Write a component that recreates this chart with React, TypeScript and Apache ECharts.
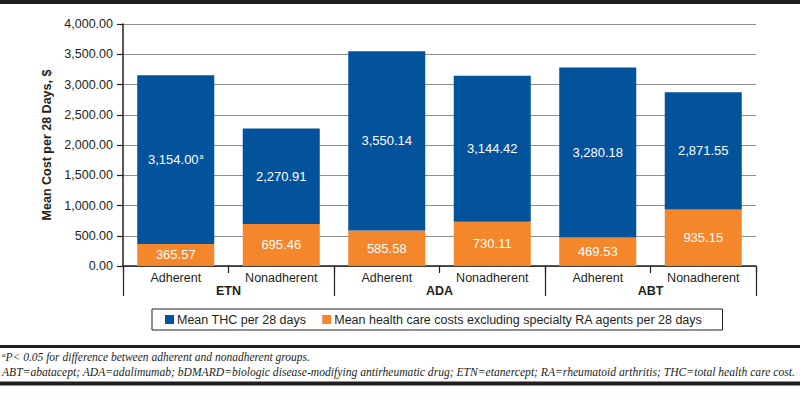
import React, { useEffect, useRef } from 'react';
import * as echarts from 'echarts';

const groups = ['ETN', 'ADA', 'ABT'];
const categories = ['Adherent', 'Nonadherent', 'Adherent', 'Nonadherent', 'Adherent', 'Nonadherent'];
const thcValues = [3154.0, 2270.91, 3550.14, 3144.42, 3280.18, 2871.55];
const otherValues = [365.57, 695.46, 585.58, 730.11, 469.53, 935.15];
const significant = [true, false, false, false, false, false];
const seriesNames = ['Mean THC per 28 days', 'Mean health care costs excluding specialty RA agents per 28 days'];
const yAxisTitle = 'Mean Cost per 28 Days, $';
const footnote1 = 'P< 0.05 for difference between adherent and nonadherent groups.';
const footnote2 =
  'ABT=abatacept; ADA=adalimumab; bDMARD=biologic disease-modifying antirheumatic drug; ETN=etanercept; RA=rheumatoid arthritis; THC=total health care cost.';

const BLUE = '#02529c';
const ORANGE = '#f4862b';
const INK = '#231f20';
const SANS = '"Liberation Sans", Arial, Helvetica, sans-serif';
const SERIF = '"Liberation Serif", "Times New Roman", serif';

const fmt = (v: number) =>
  v.toLocaleString('en-US', { minimumFractionDigits: 2, maximumFractionDigits: 2 });

export default function App() {
  const ref = useRef<HTMLDivElement>(null);
  useEffect(() => {
    if (!ref.current) return;
    const chart = echarts.init(ref.current, undefined, { renderer: 'svg' });
    const option: any = {
      animation: false,
      backgroundColor: '#ffffff',
      grid: { left: 123, right: 44, top: 24, bottom: 137, outerBoundsMode: 'none' },
      legend: {
        data: seriesNames,
        left: 152,
        top: 309,
        orient: 'horizontal',
        borderColor: INK,
        borderWidth: 1,
        borderRadius: 0,
        padding: [4, 20, 4, 13],
        itemWidth: 9,
        itemHeight: 9,
        itemGap: 16,
        icon: 'rect',
        textStyle: { fontFamily: SANS, fontSize: 12.5, color: INK, padding: [0, 0, 0, -2] },
      },
      xAxis: [
        {
          type: 'category',
          data: categories,
          position: 'bottom',
          axisLine: { show: true, lineStyle: { color: INK, width: 1.5 } },
          axisTick: { show: true, length: 7, interval: 0, lineStyle: { color: INK, width: 1.2 } },
          axisLabel: { interval: 0, margin: 5, fontFamily: SANS, fontSize: 12.5, color: INK },
        },
        {
          type: 'category',
          data: groups,
          position: 'bottom',
          axisLine: { show: false },
          axisTick: { show: true, length: 30, interval: 0, lineStyle: { color: INK, width: 1.2 } },
          axisLabel: { interval: 0, margin: 18, fontFamily: SANS, fontSize: 12.5, fontWeight: 'bold', color: INK },
        },
      ],
      yAxis: {
        type: 'value',
        min: 0,
        max: 4000,
        interval: 500,
        name: yAxisTitle,
        nameLocation: 'middle',
        nameGap: 67,
        nameTextStyle: { fontFamily: SANS, fontSize: 12.5, fontWeight: 'bold', color: INK },
        axisLine: { show: true, lineStyle: { color: INK, width: 1.5 } },
        axisTick: { show: true, length: 6, lineStyle: { color: INK, width: 1.2 } },
        axisLabel: { margin: 10, fontFamily: SANS, fontSize: 12.5, color: INK, formatter: (v: number) => fmt(v) },
        splitLine: { show: true, lineStyle: { color: '#8f8f8f', width: 1.2 } },
      },
      series: [
        {
          name: seriesNames[1],
          type: 'bar',
          stack: 'cost',
          barCategoryGap: '27%',
          itemStyle: { color: ORANGE },
          data: otherValues,
          label: {
            show: true,
            position: 'inside',
            color: '#ffffff',
            fontFamily: SANS,
            fontSize: 13,
            formatter: (p: any) => fmt(otherValues[p.dataIndex]),
          },
        },
        {
          name: seriesNames[0],
          type: 'bar',
          stack: 'cost',
          barCategoryGap: '27%',
          itemStyle: { color: BLUE },
          data: thcValues.map((v, i) => v - otherValues[i]),
          label: {
            show: true,
            position: 'inside',
            color: '#ffffff',
            fontFamily: SANS,
            fontSize: 13,
            formatter: (p: any) =>
              '{v|' + fmt(thcValues[p.dataIndex]) + '}' + (significant[p.dataIndex] ? '{sup|a}' : ''),
            rich: {
              v: { color: '#ffffff', fontFamily: SANS, fontSize: 13 },
              sup: { color: '#ffffff', fontFamily: SANS, fontSize: 7, padding: [0, 0, 6, 1] },
            },
          },
        },
      ],
      graphic: [
        { type: 'rect', shape: { x: 0, y: 0, width: 800, height: 4 }, style: { fill: INK }, silent: true },
        { type: 'rect', shape: { x: 0, y: 345, width: 800, height: 3 }, style: { fill: INK }, silent: true },
        { type: 'rect', shape: { x: 0, y: 381.5, width: 800, height: 4 }, style: { fill: INK }, silent: true },
        {
          type: 'text',
          x: 2,
          y: 357,
          style: {
            text: '{sup|a}{t|' + footnote1 + '}',
            verticalAlign: 'middle',
            rich: {
              sup: { fontFamily: SERIF, fontStyle: 'italic', fontSize: 7, fill: INK, padding: [0, 0, 5, 0] },
              t: { fontFamily: SERIF, fontStyle: 'italic', fontSize: 11.5, fill: INK },
            },
          },
        },
        {
          type: 'text',
          x: 2,
          y: 372.5,
          style: {
            text: footnote2,
            verticalAlign: 'middle',
            fontFamily: SERIF,
            fontStyle: 'italic',
            fontSize: 11.6,
            fill: INK,
          },
        },
      ],
    };
    chart.setOption(option);
    return () => chart.dispose();
  }, []);
  return (
    <div
      ref={ref}
      style={{ position: 'fixed', left: 0, top: 0, width: 800, height: 403, background: '#fff' }}
    />
  );
}
